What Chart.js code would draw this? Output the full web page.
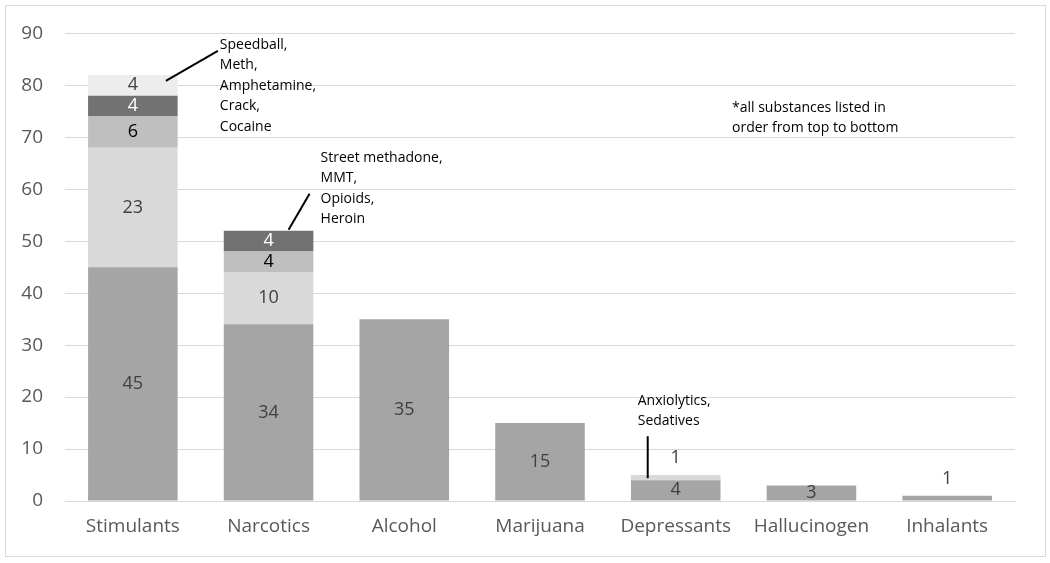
<!DOCTYPE html>
<html>
<head>
<meta charset="utf-8">
<script src="https://cdn.jsdelivr.net/npm/chart.js@4.4.0/dist/chart.umd.min.js"></script>
<style>
  html, body { margin: 0; padding: 0; background: #fff; }
  #marco { position: absolute; left: 5px; top: 5px; width: 1039px; height: 550px; border: 1px solid #d9d9d9; }
  #grafico { position: absolute; left: 0; top: 0; }
</style>
</head>
<body>
<div id="marco"></div>
<canvas id="grafico" width="1050" height="563"></canvas>
<script>
// categorias y valores por capa (de abajo hacia arriba)
const categorias = ['Stimulants', 'Narcotics', 'Alcohol', 'Marijuana', 'Depressants', 'Hallucinogen', 'Inhalants'];
const capa1 = [45, 34, 35, 15, 4, 3, 1];
const capa2 = [23, 10, null, null, 1, null, null];
const capa3 = [6, 4, null, null, null, null, null];
const capa4 = [4, 4, null, null, null, null, null];
const capa5 = [4, null, null, null, null, null, null];
const ticksY = [0, 10, 20, 30, 40, 50, 60, 70, 80, 90];

const notas = [
    { cat: 0, valor: 82, lineas: ['Speedball,', 'Meth,', 'Amphetamine,', 'Crack,', 'Cocaine'] },
    { cat: 1, valor: 52, lineas: ['Street methadone,', 'MMT,', 'Opioids,', 'Heroin'] },
    { cat: 4, valor: 4, lineas: ['Anxiolytics,', 'Sedatives'] }
];

const fuente = '"Open Sans", "Liberation Sans", sans-serif';

// etiquetas de cada segmento
const pluginEtiquetas = {
    id: 'etiquetas',
    afterDatasetsDraw(chart) {
        const ctx = chart.ctx;
        ctx.save();
        ctx.font = '18px ' + fuente;
        ctx.textAlign = 'center';
        ctx.textBaseline = 'middle';
        chart.data.datasets.forEach((ds, i) => {
            const meta = chart.getDatasetMeta(i);
            meta.data.forEach((bar, j) => {
                const v = ds.data[j];
                if (v == null) return;
                let py = (bar.y + bar.base) / 2;
                if (v === 1) py = bar.y - 17;
                ctx.fillStyle = ds.colorTexto;
                ctx.fillText(String(v), bar.x, py);
            });
        });
        ctx.restore();
    }
};

// notas de texto con su linea
const pluginNotas = {
    id: 'notas',
    afterDraw(chart) {
        const ctx = chart.ctx;
        const x = chart.scales.x;
        const y = chart.scales.y;
        ctx.save();
        ctx.font = '14px ' + fuente;
        ctx.fillStyle = '#000';
        ctx.textBaseline = 'middle';
        ctx.textAlign = 'left';
        ctx.strokeStyle = '#000';
        ctx.lineWidth = 2;

        // Stimulants
        let cx = x.getPixelForValue(0), cy = y.getPixelForValue(82);
        ctx.beginPath(); ctx.moveTo(cx + 33, cy + 6); ctx.lineTo(cx + 85, cy - 24); ctx.stroke();
        notas[0].lineas.forEach((t, k) => ctx.fillText(t, cx + 87, cy - 30 + k * 20.5));

        // Narcotics
        cx = x.getPixelForValue(1); cy = y.getPixelForValue(52);
        ctx.beginPath(); ctx.moveTo(cx + 20, cy - 1); ctx.lineTo(cx + 41, cy - 37); ctx.stroke();
        notas[1].lineas.forEach((t, k) => ctx.fillText(t, cx + 52, cy - 73 + k * 20.5));

        // Depressants
        cx = x.getPixelForValue(4); cy = y.getPixelForValue(4);
        ctx.beginPath(); ctx.moveTo(cx - 28, cy - 2); ctx.lineTo(cx - 28, cy - 44); ctx.stroke();
        notas[2].lineas.forEach((t, k) => ctx.fillText(t, cx - 38, cy - 79 + k * 20));

        ctx.fillText('*all substances listed in', 732, 108);
        ctx.fillText('order from top to bottom', 732, 128);
        ctx.restore();
    }
};

new Chart(document.getElementById('grafico').getContext('2d'), {
    type: 'bar',
    data: {
        labels: categorias,
        datasets: [
            { data: capa1, backgroundColor: '#a5a5a5', colorTexto: '#404040' },
            { data: capa2, backgroundColor: '#d9d9d9', colorTexto: '#404040' },
            { data: capa3, backgroundColor: '#bfbfbf', colorTexto: '#000000' },
            { data: capa4, backgroundColor: '#727272', colorTexto: '#ffffff' },
            { data: capa5, backgroundColor: '#ededed', colorTexto: '#404040' }
        ]
    },
    options: {
        responsive: false,
        animation: false,
        categoryPercentage: 1,
        barPercentage: 0.66,
        layout: { padding: { left: 0, right: 35, top: 23, bottom: 0 } },
        plugins: { legend: { display: false }, tooltip: { enabled: false } },
        scales: {
            x: {
                stacked: true,
                grid: { display: false, drawTicks: false },
                border: { color: '#d9d9d9', width: 1 },
                ticks: { color: '#595959', font: { size: 19, family: fuente }, padding: 14 },
                afterFit: scale => { scale.height = 62; }
            },
            y: {
                stacked: true,
                min: 0,
                max: 90,
                afterBuildTicks: scale => { scale.ticks = ticksY.map(v => ({ value: v })); },
                grid: { color: '#d9d9d9', drawTicks: false },
                border: { display: false },
                ticks: { color: '#595959', font: { size: 19, family: fuente }, padding: 22 },
                afterFit: scale => { scale.width = 65; }
            }
        }
    },
    plugins: [pluginEtiquetas, pluginNotas]
});
</script>
</body>
</html>
